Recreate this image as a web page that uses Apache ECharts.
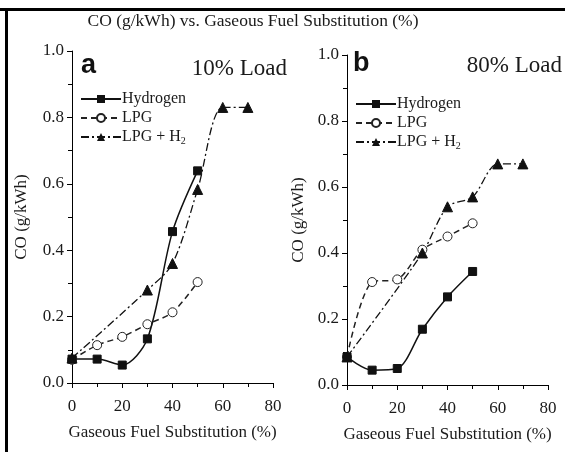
<!DOCTYPE html>
<html>
<head>
<meta charset="utf-8">
<script src="https://cdn.jsdelivr.net/npm/echarts@6/dist/echarts.min.js"></script>
<style>
html,body{margin:0;padding:0;background:#fff;}
#chart{width:565px;height:452px;}
</style>
</head>
<body>
<div id="chart"></div>
<script>
// Gaseous fuel substitution (%)
const substitution = [0, 10, 20, 30, 40, 50];
const substitutionMix = [0, 30, 40, 50, 60, 70];
// Panel a: 10% load
const aHydrogen = [0.072, 0.072, 0.054, 0.133, 0.456, 0.639];
const aLPG = [0.070, 0.114, 0.139, 0.177, 0.213, 0.304];
const aLPGH2 = [0.075, 0.280, 0.360, 0.583, 0.830, 0.830];
// Panel b: 80% load
const bHydrogen = [0.085, 0.045, 0.050, 0.169, 0.267, 0.344];
const bLPG = [0.085, 0.312, 0.320, 0.410, 0.450, 0.490];
const bLPGH2 = [0.085, 0.400, 0.540, 0.570, 0.670, 0.670];

const xTicks = [0, 20, 40, 60, 80];
const yTicks = [0.0, 0.2, 0.4, 0.6, 0.8, 1.0];
const seriesNames = ['Hydrogen', 'LPG', 'LPG + H2'];

const FONT = 'Liberation Serif';
const TXT = '#1a1a1a';

function pairs(xs, ys) { return xs.map((x, i) => [x, ys[i]]); }

function xAxis(gi) {
  return {
    type: 'value', gridIndex: gi, min: xTicks[0], max: xTicks[xTicks.length - 1], interval: 20,
    name: 'Gaseous Fuel Substitution (%)', nameLocation: 'middle', nameGap: 41,
    nameTextStyle: { fontFamily: FONT, fontSize: 17, color: TXT },
    axisLine: { lineStyle: { color: '#000', width: 1 } },
    axisTick: { length: 5, lineStyle: { color: '#000' } },
    minorTick: { show: true, splitNumber: 2, length: 4, lineStyle: { color: '#000' } },
    axisLabel: { fontFamily: FONT, fontSize: 17, color: TXT, margin: 15 },
    splitLine: { show: false }
  };
}
function yAxis(gi, gap) {
  return {
    type: 'value', gridIndex: gi, min: yTicks[0], max: yTicks[yTicks.length - 1], interval: 0.2,
    name: 'CO (g/kWh)', nameLocation: 'middle', nameGap: gap,
    nameTextStyle: { fontFamily: FONT, fontSize: 17, color: TXT },
    axisLine: { show: true, lineStyle: { color: '#000', width: 1 } },
    axisTick: { show: true, length: 5, lineStyle: { color: '#000' } },
    minorTick: { show: true, splitNumber: 2, length: 4, lineStyle: { color: '#000' } },
    axisLabel: { fontFamily: FONT, fontSize: 17, color: TXT, margin: 8, formatter: v => v.toFixed(1) },
    splitLine: { show: false }
  };
}

const styles = {
  'Hydrogen': { symbol: 'rect', symbolSize: 8, itemStyle: { color: '#111', borderColor: '#111' }, lineStyle: { color: '#111', width: 1.5, type: 'solid' } },
  'LPG': { symbol: 'circle', symbolSize: 9, itemStyle: { color: '#fff', borderColor: '#222', borderWidth: 1 }, lineStyle: { color: '#222', width: 1.5, type: [6, 4] } },
  'LPG + H2': { symbol: 'triangle', symbolSize: 10, itemStyle: { color: '#111', borderColor: '#111' }, lineStyle: { color: '#111', width: 1.3, type: [8, 3, 2, 3] } }
};

function ser(name, gi, data) {
  const s = styles[name];
  return Object.assign({
    name: name, type: 'line', xAxisIndex: gi, yAxisIndex: gi, data: data,
    smooth: 0.3, showAllSymbol: true, z: name === 'Hydrogen' ? 3 : 2
  }, JSON.parse(JSON.stringify(s)));
}

function legend(left, top) {
  return {
    left: left, top: top, orient: 'vertical', itemWidth: 40, itemHeight: 10, itemGap: 3,
    data: seriesNames, selectedMode: false,
    formatter: n => n === 'LPG + H2' ? '{m|LPG + H}{sub|2}' : '{m|' + n + '}',
    textStyle: { fontFamily: FONT, fontSize: 16, color: TXT, padding: [0, 0, 0, -4],
      rich: {
        m: { fontFamily: FONT, fontSize: 16, color: TXT, lineHeight: 18 },
        sub: { fontFamily: FONT, fontSize: 10, color: TXT, lineHeight: 10, verticalAlign: 'bottom' }
      } }
  };
}

const chart = echarts.init(document.getElementById('chart'), null, { renderer: 'canvas' });
chart.setOption({
  backgroundColor: '#fff',
  animation: false,
  grid: [
    { left: 72, top: 51, width: 201, height: 332 },
    { left: 347, top: 55, width: 201, height: 330 }
  ],
  xAxis: [xAxis(0), xAxis(1)],
  yAxis: [yAxis(0, 42), yAxis(1, 40)],
  legend: [legend(75, 86), legend(350, 91)],
  series: [
    ser('Hydrogen', 0, pairs(substitution, aHydrogen)),
    ser('LPG', 0, pairs(substitution, aLPG)),
    ser('LPG + H2', 0, pairs(substitutionMix, aLPGH2)),
    ser('Hydrogen', 1, pairs(substitution, bHydrogen)),
    ser('LPG', 1, pairs(substitution, bLPG)),
    ser('LPG + H2', 1, pairs(substitutionMix, bLPGH2))
  ],
  graphic: [
    { type: 'rect', shape: { x: 0, y: 8, width: 565, height: 3 }, style: { fill: '#000' } },
    { type: 'rect', shape: { x: 5, y: 8, width: 3, height: 444 }, style: { fill: '#000' } },
    { type: 'text', x: 253, y: 21, style: { text: 'CO (g/kWh) vs. Gaseous Fuel Substitution (%)', font: '17.5px "Liberation Serif"', fill: TXT, textAlign: 'center', textVerticalAlign: 'middle' } },
    { type: 'text', x: 81, y: 66, style: { text: 'a', font: 'bold 27px "Liberation Sans"', fill: '#111', textAlign: 'left', textVerticalAlign: 'middle' } },
    { type: 'text', x: 353, y: 64, style: { text: 'b', font: 'bold 27px "Liberation Sans"', fill: '#111', textAlign: 'left', textVerticalAlign: 'middle' } },
    { type: 'text', x: 287, y: 69, style: { text: '10% Load', font: '23px "Liberation Serif"', fill: TXT, textAlign: 'right', textVerticalAlign: 'middle' } },
    { type: 'text', x: 562, y: 66, style: { text: '80% Load', font: '23px "Liberation Serif"', fill: TXT, textAlign: 'right', textVerticalAlign: 'middle' } }
  ]
});
</script>
</body>
</html>
